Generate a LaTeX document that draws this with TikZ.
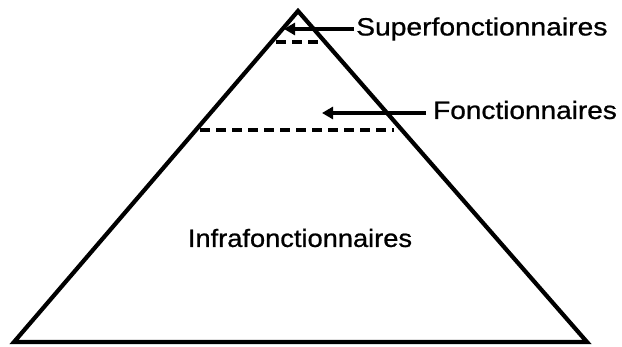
\documentclass[tikz,border=0pt]{standalone}
\usepackage{fontspec}
\setmainfont{Liberation Sans}
\newfontfamily\lblfont[FakeBold=0.8]{Liberation Sans}
\usetikzlibrary{arrows.meta}
\begin{document}
\begin{tikzpicture}[x=1pt,y=-1pt,
  lbl/.style={inner sep=0pt,font=\lblfont\fontsize{25}{30}\selectfont},
  edge/.style={line width=4.2pt,line join=miter},
  level/.style={line width=3.6pt,dash pattern=on 10pt off 6pt},
  pointer/.style={line width=4pt,-{Triangle[length=11pt,width=12pt]}}]
\useasboundingbox (0,0) rectangle (622,347);
\coordinate (apex) at (298,11);
\coordinate (bl) at (14,342);
\coordinate (br) at (587,342);
\draw[edge] (bl) -- (apex) -- (br) -- cycle;
% levels
\coordinate (l1a) at (276,42);
\coordinate (l1b) at (320,42);
\coordinate (l2a) at (200,130);
\coordinate (l2b) at (394,130);
\draw[level] (l1a) -- (l1b);
\draw[level] (l2a) -- (l2b);
% labels
\node[lbl,anchor=west] (sup) at (356,29) {\scalebox{1.13}[1]{Superfonctionnaires}};
\node[lbl,anchor=west] (fon) at (433,110) {\scalebox{1.12}[1]{Fonctionnaires}};
\node[lbl] (inf) at (300,238) {\scalebox{1.09}[1]{Infrafonctionnaires}};
\coordinate (t1) at (284,29);
\coordinate (t2) at (322,113);
\draw[pointer] ([xshift=-2pt]sup.west |- 0,29) -- (t1);
\draw[pointer] ([xshift=-7pt]fon.west |- 0,113) -- (t2);
\end{tikzpicture}
\end{document}
